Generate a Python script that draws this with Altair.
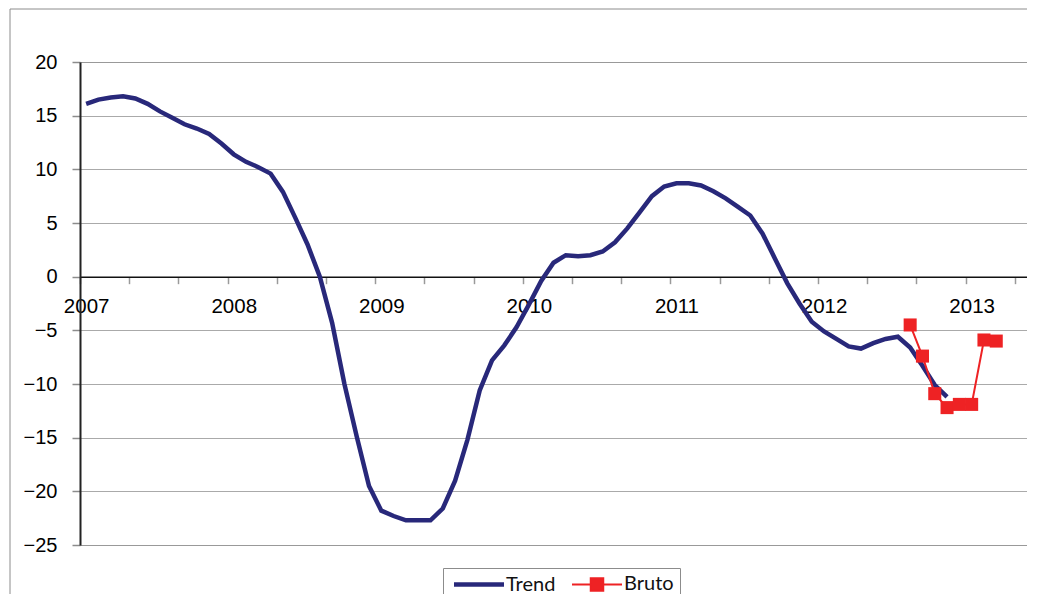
import altair as alt
import pandas as pd

# ---- data ----
years = ["2007", "2008", "2009", "2010", "2011", "2012", "2013"]
months = [f"{y}-{m:02d}" for y in years for m in range(1, 13)][:77]  # Jan 2007 .. May 2013

trend_values = [
    16.1, 16.5, 16.7, 16.8, 16.6, 16.1, 15.4, 14.8, 14.2, 13.8, 13.3, 12.4,
    11.4, 10.7, 10.2, 9.6, 7.9, 5.5, 3.0, 0.0, -4.3, -10.0, -14.9, -19.5,
    -21.8, -22.3, -22.7, -22.7, -22.7, -21.6, -19.0, -15.2, -10.6, -7.8, -6.4, -4.7,
    -2.6, -0.4, 1.3, 2.0, 1.9, 2.0, 2.35, 3.2, 4.5, 6.0, 7.5, 8.4,
    8.7, 8.7, 8.5, 7.95, 7.3, 6.5, 5.7, 4.0, 1.7, -0.6, -2.5, -4.2,
    -5.1, -5.8, -6.5, -6.7, -6.2, -5.8, -5.6, -6.6, -8.3, -10.1, -11.2,
]
bruto_start = "2012-08"
bruto_values = [-4.5, -7.4, -10.9, -12.2, -11.9, -11.9, -5.9, -6.0]

series_names = ["Trend", "Bruto"]
series_colors = ["#28287a", "#ee2224"]
y_ticks = [-25, -20, -15, -10, -5, 0, 5, 10, 15, 20]

# ---- table ----
rows = []
for i, v in enumerate(trend_values):
    rows.append({"month": months[i], "idx": i, "value": v, "series": "Trend"})
b0 = months.index(bruto_start)
for j, v in enumerate(bruto_values):
    rows.append({"month": months[b0 + j], "idx": b0 + j, "value": v, "series": "Bruto"})
df = pd.DataFrame(rows)

n = len(months)
W, H = 947, 483
cat_px = W / n
year_expr = "[" + ",".join(f"'{y}'" for y in years) + "]"
label_expr = (
    f"(datum.value + 0.5) % 12 === 0 ? {year_expr}[(datum.value + 0.5) / 12] : ''"
)
zero_offset = -(H - H * (20 - 0) / 45.0)

x_enc = alt.X(
    "idx:Q",
    scale=alt.Scale(domain=[-0.5, n - 0.5], nice=False, zero=False),
    axis=alt.Axis(
        values=[k - 0.5 for k in range(n + 1)],
        labelExpr=label_expr,
        labelOffset=cat_px / 2,
        labelFlush=False,
        labelOverlap=False,
        labelAngle=0,
        labelPadding=13,
        labelFontSize=20.5,
        tickSize=7,
        tickColor="#9a9a9a",
        tickWidth=1.5,
        domainColor="#111111",
        domainWidth=1.5,
        offset=zero_offset,
        grid=False,
        title=None,
    ),
)
y_enc = alt.Y(
    "value:Q",
    scale=alt.Scale(domain=[-25, 20], nice=False, zero=False),
    axis=alt.Axis(
        values=y_ticks,
        tickSize=8,
        tickColor="#8c8c8c",
        tickWidth=1.5,
        domainColor="#222222",
        domainWidth=2,
        grid=True,
        gridColor="#555555",
        gridDash=[1, 1],
        gridWidth=1,
        labelPadding=15,
        labelFontSize=20,
        title=None,
    ),
)

# legend symbols: size 100 -> 5 px per path unit; symbol spans 0..50 px
legend = alt.Legend(
    orient="none",
    legendX=363,
    legendY=506,
    direction="horizontal",
    title=None,
    labelFont="Lato",
    labelFontSize=20,
    labelColor="#111111",
    symbolType=alt.ExprRef(
        "datum.value === 'Trend' ? 'M-1,0H9' : 'M-1,0H9M2.75,-1.25H5.25V1.25H2.75Z'"
    ),
    symbolSize=100,
    symbolStrokeWidth=alt.ExprRef("datum.value === 'Trend' ? 4 : 2"),
    symbolFillColor=alt.ExprRef("datum.value === 'Trend' ? 'transparent' : '#ee2224'"),
    labelOffset=37,
    columnPadding=11,
    padding=6,
    strokeColor="#8c8c8c",
)

color_scale = alt.Scale(domain=series_names, range=series_colors)

lines = alt.Chart(df).mark_line(interpolate="linear").encode(
    x=x_enc,
    y=y_enc,
    color=alt.Color("series:N", scale=color_scale, legend=legend),
    strokeWidth=alt.StrokeWidth(
        "series:N", scale=alt.Scale(domain=series_names, range=[4.5, 2]), legend=None
    ),
    detail="series:N",
)

points = alt.Chart(df).transform_filter(alt.datum.series == "Bruto").mark_point(
    shape="square", filled=True, size=170, opacity=1, color="#ee2224"
).encode(x=alt.X("idx:Q"), y=alt.Y("value:Q"))

frame = alt.Chart(alt.Data(values=[{}]))
frame_left = frame.mark_rule(color="#8c8c8c", strokeWidth=1).encode(
    x=alt.value(-70), y=alt.value(-53), y2=alt.value(600)
)
frame_top = frame.mark_rule(color="#8c8c8c", strokeWidth=1).encode(
    x=alt.value(-70), x2=alt.value(1000), y=alt.value(-53)
)

chart = (
    alt.layer(frame_left, frame_top, lines, points)
    .properties(
        width=W,
        height=H,
        padding={"left": 72, "top": 54, "right": 0, "bottom": 49},
        autosize=alt.AutoSizeParams(type="none"),
    )
    .configure_view(stroke="#8c8c8c", strokeWidth=2.5)
    .configure_axis(labelFont="Lato", labelColor="#1a1a1a")
    .configure(background="white")
)

chart.save("out.html", embed_options={"renderer": "svg", "actions": False})
